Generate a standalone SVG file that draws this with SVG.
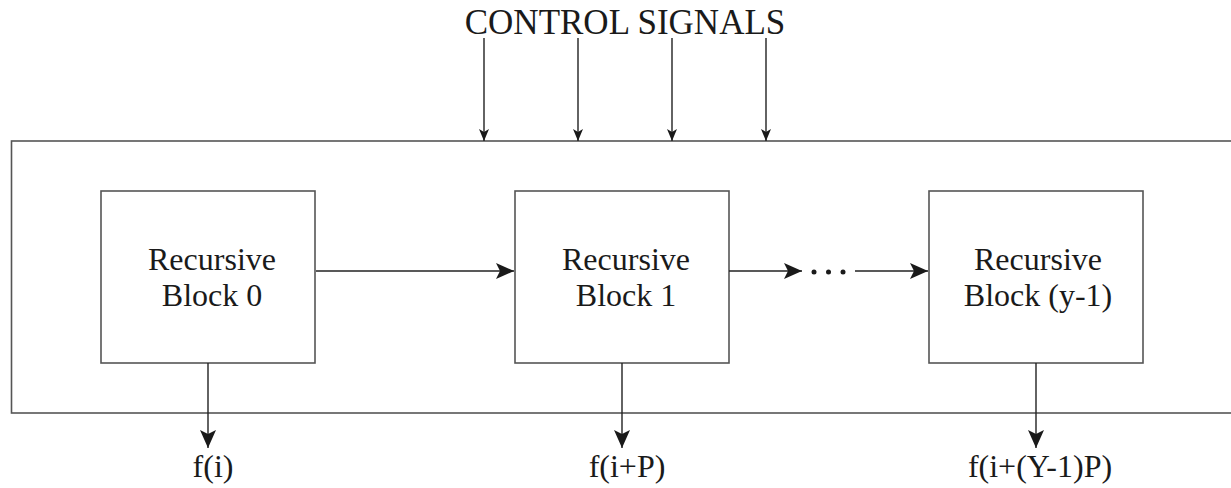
<svg xmlns="http://www.w3.org/2000/svg" width="1231" height="488" viewBox="0 0 1231 488">
<style>
.box{fill:none;stroke:#555;stroke-width:1.6}
.ln{fill:none;stroke:#222;stroke-width:1.4}
.t{font-family:"Liberation Serif","Times New Roman",serif;fill:#1a1a1a;text-anchor:middle}
</style>
<defs>
<marker id="ah" viewBox="0 0 18 16" refX="18" refY="8" markerWidth="18" markerHeight="16" markerUnits="userSpaceOnUse" orient="auto">
<path d="M0,0 L18,8 L0,16 L4,8 Z" fill="#1a1a1a"/>
</marker>
<marker id="ahs" viewBox="0 0 12 10" refX="12" refY="5" markerWidth="12" markerHeight="10" markerUnits="userSpaceOnUse" orient="auto">
<path d="M0,0 L12,5 L0,10 L3,5 Z" fill="#1a1a1a"/>
</marker>
</defs>
<rect width="1231" height="488" fill="#fff"/>
<g id="title">
<text class="t" x="625" y="34" font-size="35">CONTROL SIGNALS</text>
</g>
<g id="container">
<rect class="box" x="11.5" y="141" width="1225" height="272"/>
</g>
<g id="block0">
<rect class="box" x="101" y="191" width="214" height="172"/>
<text class="t" x="212" y="270" font-size="32">Recursive</text>
<text class="t" x="212" y="306" font-size="32">Block 0</text>
</g>
<g id="block1">
<rect class="box" x="515" y="191" width="214" height="172"/>
<text class="t" x="626" y="270" font-size="32">Recursive</text>
<text class="t" x="626" y="306" font-size="32">Block 1</text>
</g>
<g id="blockN">
<rect class="box" x="929" y="191" width="214" height="172"/>
<text class="t" x="1038" y="270" font-size="32">Recursive</text>
<text class="t" x="1038" y="306" font-size="32">Block (y-1)</text>
</g>
<g id="dots" fill="#1a1a1a">
<circle cx="814" cy="272" r="2.5"/>
<circle cx="828.5" cy="272" r="2.5"/>
<circle cx="843" cy="272" r="2.5"/>
</g>
<g id="connectors">
<line class="ln" x1="484" y1="38" x2="484" y2="141" marker-end="url(#ahs)"/>
<line class="ln" x1="578" y1="38" x2="578" y2="141" marker-end="url(#ahs)"/>
<line class="ln" x1="672" y1="38" x2="672" y2="141" marker-end="url(#ahs)"/>
<line class="ln" x1="766" y1="38" x2="766" y2="141" marker-end="url(#ahs)"/>
<line class="ln" x1="316" y1="271" x2="514" y2="271" marker-end="url(#ah)"/>
<line class="ln" x1="729" y1="271" x2="802" y2="271" marker-end="url(#ah)"/>
<line class="ln" x1="855" y1="271" x2="928" y2="271" marker-end="url(#ah)"/>
<line class="ln" x1="208" y1="363" x2="208" y2="448" marker-end="url(#ah)"/>
<line class="ln" x1="622" y1="363" x2="622" y2="448" marker-end="url(#ah)"/>
<line class="ln" x1="1036" y1="363" x2="1036" y2="448" marker-end="url(#ah)"/>
</g>
<g id="outputs">
<text class="t" x="213" y="477" font-size="32">f(i)</text>
<text class="t" x="627" y="477" font-size="32">f(i+P)</text>
<text class="t" x="1040" y="477" font-size="32">f(i+(Y-1)P)</text>
</g>
</svg>
